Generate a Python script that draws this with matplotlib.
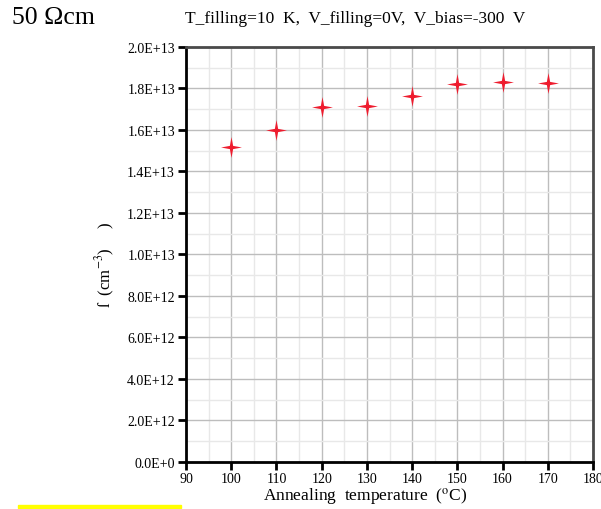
import numpy as np
import matplotlib.pyplot as plt
from matplotlib.ticker import MultipleLocator, FuncFormatter

# annealing temperature (C) and trap concentration (cm^-3)
temperature = [100, 110, 120, 130, 140, 150, 160, 170]
concentration = [1.52e13, 1.60e13, 1.71e13, 1.715e13, 1.765e13, 1.82e13, 1.83e13, 1.825e13]

plt.rcParams['font.family'] = ['Liberation Serif', 'DejaVu Serif']
plt.rcParams['mathtext.fontset'] = 'stix'

fig = plt.figure(figsize=(6.01, 5.10), dpi=100)
ax = fig.add_axes([0.3095, 0.0922, 0.6772, 0.8137])

# four-pointed star marker
ang = np.linspace(0, 2 * np.pi, 9)[:-1]
r = np.where(np.arange(8) % 2 == 0, 1.0, 0.22)
star = list(zip(r * np.sin(ang), r * np.cos(ang)))
star.append(star[0])

ax.plot(temperature, concentration, linestyle='none', marker=star,
        markersize=15, color='#ee1c2e', markeredgewidth=0, zorder=5)

ax.set_xlim(90, 180)
ax.set_ylim(0, 2.0e13)
ax.xaxis.set_major_locator(MultipleLocator(10))
ax.xaxis.set_minor_locator(MultipleLocator(5))
ax.yaxis.set_major_locator(MultipleLocator(2e12))
ax.yaxis.set_minor_locator(MultipleLocator(1e12))


def sci_fmt(v, pos):
    if v == 0:
        return '0.0E+0'
    e = int(np.floor(np.log10(abs(v))))
    return f'{v / 10**e:.1f}E+{e}'


ax.yaxis.set_major_formatter(FuncFormatter(sci_fmt))

ax.grid(which='major', color='#bdbdbd', linewidth=1.0)
ax.grid(which='minor', color='#e8e8e8', linewidth=1.0)
ax.set_axisbelow(True)

ax.tick_params(which='major', direction='out', length=6, width=2,
               labelsize=10, pad=2)
ax.tick_params(which='minor', length=0)
ax.tick_params(axis='x', pad=1)

for side in ['left', 'bottom']:
    ax.spines[side].set_linewidth(2)
    ax.spines[side].set_color('black')
for side in ['top', 'right']:
    ax.spines[side].set_linewidth(2)
    ax.spines[side].set_color('#4a4a4a')

fig.text(365 / 601, 1 - 497 / 510, 'Annealing  temperature  ($^{\\rm o}$C)',
         fontsize=12.5, ha='center', va='center')

fig.text(105 / 601, 1 - 265 / 510, 'ſ  (cm$^{-3}$)     )', rotation=90,
         fontsize=12, ha='center', va='center')

fig.text(12 / 601, 1 - 18 / 510, '50 Ωcm', fontsize=18.5, ha='left', va='center')
fig.text(185 / 601, 1 - 19 / 510, 'T_filling=10  K,  V_filling=0V,  V_bias=-300  V',
         fontsize=12.5, ha='left', va='center')

# highlight strip at the bottom
fig.add_artist(plt.Rectangle((18 / 601, 0.6 / 510), 163 / 601, 3 / 510,
                             color='#ffff00', transform=fig.transFigure))

fig.savefig('out.png', dpi=100)
